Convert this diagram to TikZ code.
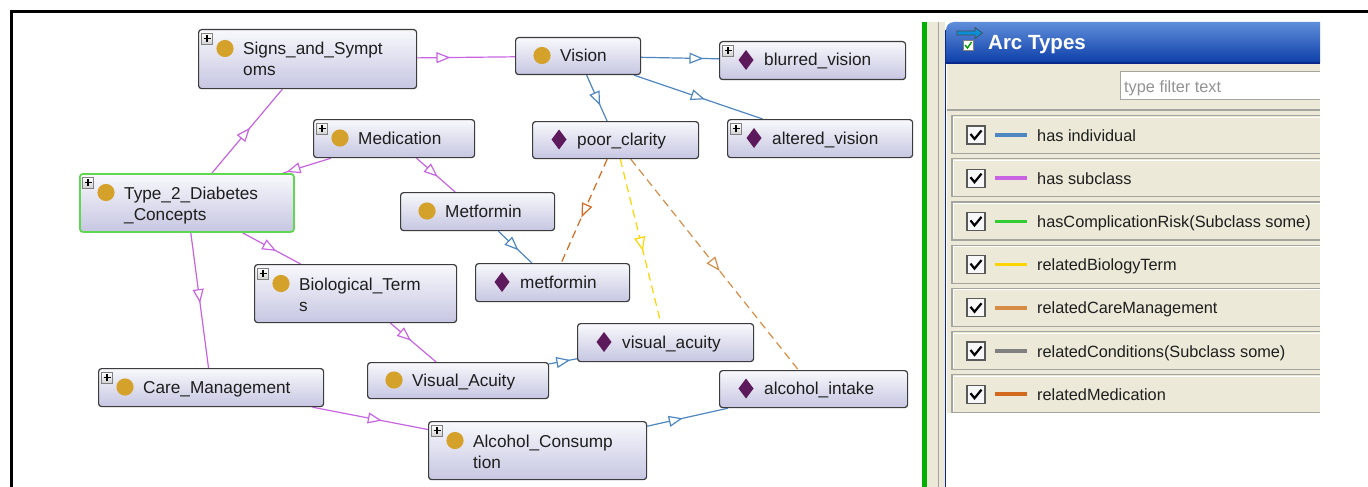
\documentclass[tikz,border=0pt]{standalone}
\usepackage{fontspec}
\setmainfont{Liberation Sans}
\usetikzlibrary{arrows.meta,decorations.markings,backgrounds}

\definecolor{boxline}{RGB}{60,60,60}
\definecolor{boxtop}{RGB}{248,248,252}
\definecolor{boxbot}{RGB}{198,198,226}
\definecolor{selgreen}{RGB}{95,215,80}
\definecolor{classgold}{RGB}{212,161,42}
\definecolor{indplum}{RGB}{92,26,92}
\definecolor{labeltext}{RGB}{30,30,30}
\definecolor{subpurple}{RGB}{200,100,225}
\definecolor{indblue}{RGB}{78,135,192}
\definecolor{riskgreen}{RGB}{50,205,50}
\definecolor{bioyellow}{RGB}{255,212,0}
\definecolor{caretan}{RGB}{215,140,70}
\definecolor{condgray}{RGB}{128,128,128}
\definecolor{medorange}{RGB}{210,105,30}
\definecolor{xpbeige}{RGB}{236,233,216}
\definecolor{titletop}{RGB}{95,142,218}
\definecolor{titlebot}{RGB}{12,62,168}
\definecolor{titleedge}{RGB}{10,40,140}
\definecolor{bargreen}{RGB}{0,176,0}
\definecolor{rowedge}{RGB}{165,165,160}

\tikzset{
  concept/.style={draw=boxline, line width=1.2pt, rounded corners=3pt,
    top color=boxtop, bottom color=boxbot, anchor=north west, inner sep=0pt},
  boxtext/.style={anchor=base west, inner sep=0pt, align=left, text=labeltext,
    font=\fontsize{17.2}{21}\selectfont},
  arctext/.style={anchor=base west, inner sep=0pt, text=labeltext,
    font=\fontsize{16.3}{19}\selectfont},
  subarc/.style={subpurple, line width=1.2pt},
  indarc/.style={indblue, line width=1.2pt},
  relarc/.style={line width=1.2pt, dash pattern=on 8pt off 5pt},
  midtip/.style={postaction={decorate}, decoration={markings,
    mark=at position #1 with {\arrow{Triangle[length=14pt, width=11pt, fill=white]}}}},
  plusicon/.pic={
    \draw[gray, top color=white, bottom color=gray!35, line width=0.6pt] (-5.5,-5.5) rectangle (5.5,5.5);
    \draw[black, line width=1.4pt] (-3.5,0) -- (3.5,0) (0,-3.5) -- (0,3.5);},
  classicon/.pic={\fill[classgold] (0,0) circle (8.6pt);},
  indicon/.pic={\fill[indplum] (0,-10) -- (7.5,0) -- (0,10) -- (-7.5,0) -- cycle;}
}

\begin{document}
\begin{tikzpicture}[x=1pt, y=-1pt]
\useasboundingbox (0,0) rectangle (1368,487);

% ontology boxes
\node[concept, minimum width=218pt, minimum height=59pt] (signs) at (198,29) {};
\node[concept, minimum width=125pt, minimum height=37pt] (vision) at (515,37) {};
\node[concept, minimum width=186pt, minimum height=38pt] (blurred) at (719,41) {};
\node[concept, minimum width=166pt, minimum height=37pt] (poor) at (532,121) {};
\node[concept, minimum width=185pt, minimum height=38pt] (altered) at (727,119) {};
\node[concept, minimum width=161pt, minimum height=38pt] (medication) at (313,119) {};
\node[concept, draw=selgreen, line width=1.8pt, minimum width=214pt, minimum height=58pt] (type2) at (79,173) {};
\node[concept, minimum width=154pt, minimum height=38pt] (metforminC) at (400,192) {};
\node[concept, minimum width=202pt, minimum height=58pt] (bioterms) at (254,264) {};
\node[concept, minimum width=154pt, minimum height=38pt] (metforminI) at (475,263) {};
\node[concept, minimum width=176pt, minimum height=38pt] (acuityI) at (577,323) {};
\node[concept, minimum width=225pt, minimum height=38pt] (caremgmt) at (98,368) {};
\node[concept, minimum width=181pt, minimum height=36pt] (acuityC) at (367,362) {};
\node[concept, minimum width=188pt, minimum height=37pt] (alcintake) at (719,370) {};
\node[concept, minimum width=218pt, minimum height=58pt] (alccons) at (428,421) {};

% icons
\pic at (207,38.5) {plusicon};   \pic at (225,48.5) {classicon};
\pic at (542,55.5) {classicon};
\pic at (728,50.5) {plusicon};   \pic at (746,60) {indicon};
\pic at (559,139.5) {indicon};
\pic at (736,128.5) {plusicon};  \pic at (754,138) {indicon};
\pic at (322,128.5) {plusicon};  \pic at (340,138) {classicon};
\pic at (88,182.5) {plusicon};   \pic at (106,192.5) {classicon};
\pic at (427,211) {classicon};
\pic at (263,273.5) {plusicon};  \pic at (281,283.5) {classicon};
\pic at (502,282) {indicon};
\pic at (604,342) {indicon};
\pic at (107,377.5) {plusicon};  \pic at (125,387) {classicon};
\pic at (394,380) {classicon};
\pic at (746,388.5) {indicon};
\pic at (437,430.5) {plusicon};  \pic at (455,440.5) {classicon};

% box labels (base = last line)
\node[boxtext] (signs-t) at (243,76) {Signs\_and\_Sympt\\oms};
\node[boxtext] (vision-t) at (560,61.5) {Vision};
\node[boxtext] (blurred-t) at (764,66) {blurred\_vision};
\node[boxtext] (poor-t) at (577,145.5) {poor\_clarity};
\node[boxtext] (altered-t) at (772,144) {altered\_vision};
\node[boxtext] (medication-t) at (358,144) {Medication};
\node[boxtext] (type2-t) at (124,220) {Type\_2\_Diabetes\\\_Concepts};
\node[boxtext] (metforminC-t) at (445,217) {Metformin};
\node[boxtext] (bioterms-t) at (299,311) {Biological\_Term\\s};
\node[boxtext] (metforminI-t) at (520,288) {metformin};
\node[boxtext] (acuityI-t) at (622,348) {visual\_acuity};
\node[boxtext] (caremgmt-t) at (143,393) {Care\_Management};
\node[boxtext] (acuityC-t) at (412,386) {Visual\_Acuity};
\node[boxtext] (alcintake-t) at (764,394.5) {alcohol\_intake};
\node[boxtext] (alccons-t) at (473,468) {Alcohol\_Consump\\tion};

% arcs, behind the boxes
\begin{scope}[on background layer]
\fill[white] (0,0) rectangle (1368,487);
\draw[subarc, midtip=0.34] (signs) -- (vision);
\draw[subarc, midtip=0.54] (type2) -- (signs);
\draw[subarc, midtip=0.93] (medication) -- (type2);
\draw[subarc, midtip=0.55] (medication) -- (metforminC);
\draw[subarc, midtip=0.58] (type2) -- (bioterms);
\draw[subarc, midtip=0.52] (type2) -- (caremgmt);
\draw[subarc, midtip=0.45] (bioterms) -- (acuityC);
\draw[subarc, midtip=0.60] (caremgmt) -- (alccons);
\draw[indarc, midtip=0.80] (vision) -- (blurred);
\draw[indarc, midtip=0.55] (vision) -- (altered);
\draw[indarc, midtip=0.66] (vision) -- (poor);
\draw[indarc, midtip=0.60] (metforminC) -- (metforminI);
\draw[indarc, midtip=0.76] (acuityC) -- (acuityI);
\draw[indarc, midtip=0.44] (alccons) -- (alcintake);
\draw[relarc, medorange, midtip=0.56] (poor) -- (metforminI);
\draw[relarc, bioyellow, midtip=0.56] (poor) -- (acuityI);
\draw[relarc, caretan, midtip=0.53] (poor) -- (alcintake);
\end{scope}

% side panel
\fill[bargreen] (922,22) rectangle (927,487);
\fill[xpbeige] (927,22) rectangle (945,487);
\draw[rowedge, line width=1.8pt] (938.5,22) -- (938.5,487);
\shade[top color=titletop, bottom color=titlebot] (946,63) [rounded corners=8pt] -- (946,22) [sharp corners] -- (1320,22) -- (1320,63) -- cycle;
\draw[titleedge, line width=1.5pt] (945.5,30) -- (945.5,487);
\draw[titleedge, line width=1.5pt] (946,63) -- (1320,63);
\draw[black!70, line width=0.7pt, fill=cyan!75!blue] (957,31) -- (975,31) -- (975,27.5) -- (982.5,33) -- (975,38.5) -- (975,35) -- (957,35) -- cycle;
\draw[gray, fill=white, line width=0.6pt] (963,40) rectangle (973,50);
\draw[green!60!black, line width=1.4pt] (965,45) -- (967.5,48) -- (971.5,42);
\node[anchor=base west, inner sep=0pt, white, font=\fontsize{20.5}{24}\selectfont\bfseries] (title) at (988,50) {Arc Types};
\fill[xpbeige] (946.5,64) rectangle (1320,413);
\filldraw[draw=rowedge, fill=white, line width=1.2pt] (1320,71.5) -- (1120.5,71.5) -- (1120.5,99.5) -- (1320,99.5);
\node[anchor=base west, inner sep=0pt, gray!85, font=\fontsize{16.3}{19}\selectfont] (filter) at (1124,92.5) {type filter text};
\draw[rowedge, line width=1.2pt] (946.5,110) -- (1320,110);
\foreach \col/\arc [count=\i] in {indblue/has individual, subpurple/has subclass,
    riskgreen/hasComplicationRisk(Subclass some), bioyellow/relatedBiologyTerm,
    caretan/relatedCareManagement, condgray/relatedConditions(Subclass some),
    medorange/relatedMedication}{
  \pgfmathsetmacro\cy{135+43.2*(\i-1)}
  \draw[rowedge, line width=1.2pt] (1320,\cy-19.5) -- (952,\cy-19.5) -- (952,\cy+18.5) -- (1320,\cy+18.5);
  \draw[white, line width=1pt] (1320,\cy-18) -- (953.8,\cy-18) -- (953.8,\cy+17);
  \draw[black!65, fill=white!94!gray, line width=1.2pt] (967,\cy-9) rectangle (985,\cy+9);
  \draw[black, line width=2.2pt] (970.5,\cy-1) -- (974.5,\cy+4) -- (981.5,\cy-4.5);
  \draw[\col, line width=3.5pt] (995,\cy) -- (1027,\cy);
  \node[arctext] (arc\i) at (1037,\cy+6) {\arc};
}
\fill[white] (946.5,413) rectangle (1320,487);

% frame
\draw[line width=2.6pt] (11.3,487) -- (11.3,11.3) -- (1368,11.3);
\end{tikzpicture}
\end{document}
